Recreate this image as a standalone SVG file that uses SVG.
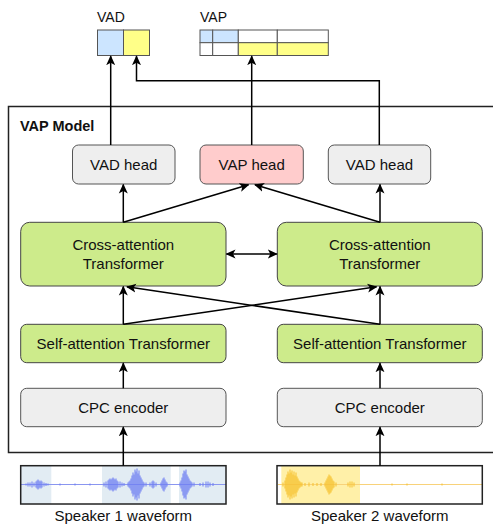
<svg xmlns="http://www.w3.org/2000/svg" width="493" height="524" viewBox="0 0 493 524">
<defs>
<style>
text{font-family:"Liberation Sans",Arial,sans-serif;fill:#111;}
.lbl{font-size:15px;text-anchor:middle;}
.gray{fill:#eeeeee;stroke:#555;stroke-width:1;}
.green{fill:#cdeb8b;stroke:#444;stroke-width:1;}
.pink{fill:#ffcccc;stroke:#555;stroke-width:1;}
.edge{fill:none;stroke:#000;stroke-width:1.5;}
.cell{stroke:#555;stroke-width:1;}
</style>
<marker id="arr" viewBox="0 0 10 10" refX="9" refY="5" markerWidth="10" markerHeight="10" markerUnits="userSpaceOnUse" orient="auto-start-reverse">
<path d="M0,0.5 L10,5 L0,9.5 L2.5,5 z" fill="#000"/>
</marker>
</defs>
<rect width="493" height="524" fill="#fff"/>

<g id="frame">
<rect x="8.5" y="106.5" width="500" height="346" fill="none" stroke="#222" stroke-width="1.5"/>
<text x="20" y="131" font-size="14.5" font-weight="bold">VAP Model</text>
</g>

<g id="vad-out">
<text x="97" y="22" font-size="14">VAD</text>
<rect x="97.5" y="30" width="26" height="25.5" fill="#cce5ff" class="cell"/>
<rect x="123.5" y="30" width="26" height="25.5" fill="#ffff88" class="cell"/>
</g>

<g id="vap-out">
<text x="200" y="22" font-size="14">VAP</text>
<rect x="200" y="30" width="12.7" height="12.7" fill="#cce5ff" class="cell"/>
<rect x="212.7" y="30" width="25.6" height="12.7" fill="#cce5ff" class="cell"/>
<rect x="238.3" y="30" width="39" height="12.7" fill="#fff" class="cell"/>
<rect x="277.3" y="30" width="51" height="12.7" fill="#fff" class="cell"/>
<rect x="200" y="42.7" width="12.7" height="12.8" fill="#fff" class="cell"/>
<rect x="212.7" y="42.7" width="25.6" height="12.8" fill="#fff" class="cell"/>
<rect x="238.3" y="42.7" width="39" height="12.8" fill="#ffff88" class="cell"/>
<rect x="277.3" y="42.7" width="51" height="12.8" fill="#ffff88" class="cell"/>
</g>

<g id="vad-head-1">
<rect x="72.5" y="145" width="102.5" height="39" rx="6" class="gray"/>
<text x="123.7" y="170" class="lbl">VAD head</text>
</g>
<g id="vap-head">
<rect x="200" y="145" width="103.3" height="39" rx="6" class="pink"/>
<text x="251.7" y="170" class="lbl">VAP head</text>
</g>
<g id="vad-head-2">
<rect x="328.3" y="145" width="102.4" height="39" rx="6" class="gray"/>
<text x="379.5" y="170" class="lbl">VAD head</text>
</g>

<g id="cross-1">
<rect x="20.7" y="222.3" width="205.3" height="63.7" rx="9" class="green"/>
<text x="123.3" y="250" class="lbl">Cross-attention</text>
<text x="123.3" y="269" class="lbl">Transformer</text>
</g>
<g id="cross-2">
<rect x="277.3" y="222.3" width="205" height="63.7" rx="9" class="green"/>
<text x="379.8" y="250" class="lbl">Cross-attention</text>
<text x="379.8" y="269" class="lbl">Transformer</text>
</g>

<g id="self-1">
<rect x="20.7" y="324.3" width="205.3" height="38.4" rx="6" class="green"/>
<text x="123.3" y="349" class="lbl">Self-attention Transformer</text>
</g>
<g id="self-2">
<rect x="277.3" y="324.3" width="205" height="38.4" rx="6" class="green"/>
<text x="379.8" y="349" class="lbl">Self-attention Transformer</text>
</g>

<g id="cpc-1">
<rect x="20.7" y="388.3" width="205.3" height="38.4" rx="6" class="gray"/>
<text x="123.3" y="413" class="lbl">CPC encoder</text>
</g>
<g id="cpc-2">
<rect x="277.3" y="388.3" width="205" height="38.4" rx="6" class="gray"/>
<text x="379.8" y="413" class="lbl">CPC encoder</text>
</g>

<g id="wave-1">
<rect x="20.7" y="465.7" width="205.3" height="38.3" fill="#fff"/>
<rect x="20.7" y="465.7" width="30.6" height="38.3" fill="#e2ecf3"/>
<rect x="102" y="465.7" width="68.7" height="38.3" fill="#e2ecf3"/>
<rect x="179" y="465.7" width="47" height="38.3" fill="#e2ecf3"/>
<path d="M21,484.5H226" stroke="#8a96f0" stroke-width="1" fill="none"/>
<path stroke="#6f7ef2" stroke-width="1" fill="none" d="M26,483.5V485.5M28,482.5V486.5M30,482.5V486.5M32,481.5V487.5M34,482.5V486.5M36,481.5V487.5M37,480.5V488.5M38,479.5V489.5M39,480.5V488.5M40,481.5V487.5M41,480.5V488.5M42,481.5V487.5M44,482.5V486.5M46,483V486M48,483.5V485.5M60,483.5V485.5M75,483.5V485.5M90,483.5V485.5M104,482.5V486.5M106,481.5V487.5M108,480.5V488.5M109,479.5V489.5M110,478.5V490.5M111,479.5V489.5M112,478.5V490.5M113,477.5V491.5M114,478.5V490.5M115,479.5V489.5M116,478.5V490.5M117,480.5V488.5M118,481.5V487.5M120,481.5V487.5M122,482.5V486.5M124,483V486M128,482.5V486.5M129,481.5V487.5M130,480.5V488.5M131,478.5V490.5M132,475.5V493.5M133,472.5V496.5M134,474.5V494.5M135,469.5V499.5M136,471.5V497.5M137,468.5V500.5M138,473.5V495.5M139,470.5V498.5M140,475.5V493.5M141,477.5V491.5M142,479.5V489.5M143,481.5V487.5M144,482.5V486.5M146,482.5V486.5M150,482.5V486.5M152,481.5V487.5M153,480.5V488.5M154,481.5V487.5M156,482.5V486.5M161,482.5V486.5M162,480.5V488.5M163,478.5V490.5M164,477.5V491.5M165,479.5V489.5M166,481.5V487.5M167,482.5V486.5M180,482.5V486.5M181,480.5V488.5M182,477.5V491.5M183,473.5V495.5M184,470.5V498.5M185,471.5V497.5M186,469.5V499.5M187,474.5V494.5M188,476.5V492.5M189,478.5V490.5M190,480.5V488.5M191,481.5V487.5M192,482.5V486.5M194,482.5V486.5M200,483V486M203,482.5V486.5M206,481.5V487.5M208,481.5V487.5M210,482.5V486.5M213,483V486"/>
<rect x="20.7" y="465.7" width="205.3" height="38.3" fill="none" stroke="#222" stroke-width="1.5"/>
<text x="123.3" y="521" class="lbl">Speaker 1 waveform</text>
</g>

<g id="wave-2">
<rect x="277" y="465.7" width="205.3" height="38.3" fill="#fff"/>
<rect x="281.3" y="465.7" width="78.7" height="38.3" fill="#fff0a8"/>
<path d="M278,484.5H482" stroke="#f8d27a" stroke-width="1" fill="none"/>
<path stroke="#f6c12e" stroke-width="1" fill="none" d="M283,482.5V486.5M285,480.5V488.5M286,477.5V491.5M287,474.5V494.5M288,471.5V497.5M289,473.5V495.5M290,469.5V499.5M291,472.5V496.5M292,470.5V498.5M293,474.5V494.5M294,471.5V497.5M295,475.5V493.5M296,472.5V496.5M297,476.5V492.5M298,478.5V490.5M299,480.5V488.5M300,481.5V487.5M301,482.5V486.5M302,482.5V486.5M305,483V486M309,482.5V486.5M313,483V486M317,483V486M321,483V486M325,482.5V486.5M326,480.5V488.5M327,478.5V490.5M328,476.5V492.5M329,474.5V494.5M330,475.5V493.5M331,476.5V492.5M332,478.5V490.5M333,480.5V488.5M334,481.5V487.5M336,482.5V486.5M348,482.5V486.5M350,481.5V487.5M352,481.5V487.5M354,482.5V486.5M392,483.5V485.5M407,483.5V485.5M442,483.5V485.5"/>
<rect x="277" y="465.7" width="205.3" height="38.3" fill="none" stroke="#222" stroke-width="1.5"/>
<text x="379.8" y="521" class="lbl">Speaker 2 waveform</text>
</g>

<g id="connectors">
<path class="edge" d="M123.3,465.7V427.2" marker-end="url(#arr)"/>
<path class="edge" d="M380,465.7V427.2" marker-end="url(#arr)"/>
<path class="edge" d="M123.3,388.3V363.2" marker-end="url(#arr)"/>
<path class="edge" d="M380,388.3V363.2" marker-end="url(#arr)"/>
<path class="edge" d="M123.3,324.3V286.6" marker-end="url(#arr)"/>
<path class="edge" d="M380,324.3V286.6" marker-end="url(#arr)"/>
<path class="edge" d="M123.3,324.3L376.5,286.8" marker-end="url(#arr)"/>
<path class="edge" d="M380,324.3L127,286.8" marker-end="url(#arr)"/>
<path class="edge" d="M123.3,222.3V184.6" marker-end="url(#arr)"/>
<path class="edge" d="M380,222.3V184.6" marker-end="url(#arr)"/>
<path class="edge" d="M123.3,222.3L248.5,184.8" marker-end="url(#arr)"/>
<path class="edge" d="M380,222.3L255,184.8" marker-end="url(#arr)"/>
<path class="edge" d="M226.5,254H276.8" marker-start="url(#arr)" marker-end="url(#arr)"/>
<path class="edge" d="M110.7,145V56.2" marker-end="url(#arr)"/>
<path class="edge" d="M251.7,145V56.2" marker-end="url(#arr)"/>
<path class="edge" d="M379.3,145V80.7H136.5V56.2" marker-end="url(#arr)"/>
</g>
</svg>
